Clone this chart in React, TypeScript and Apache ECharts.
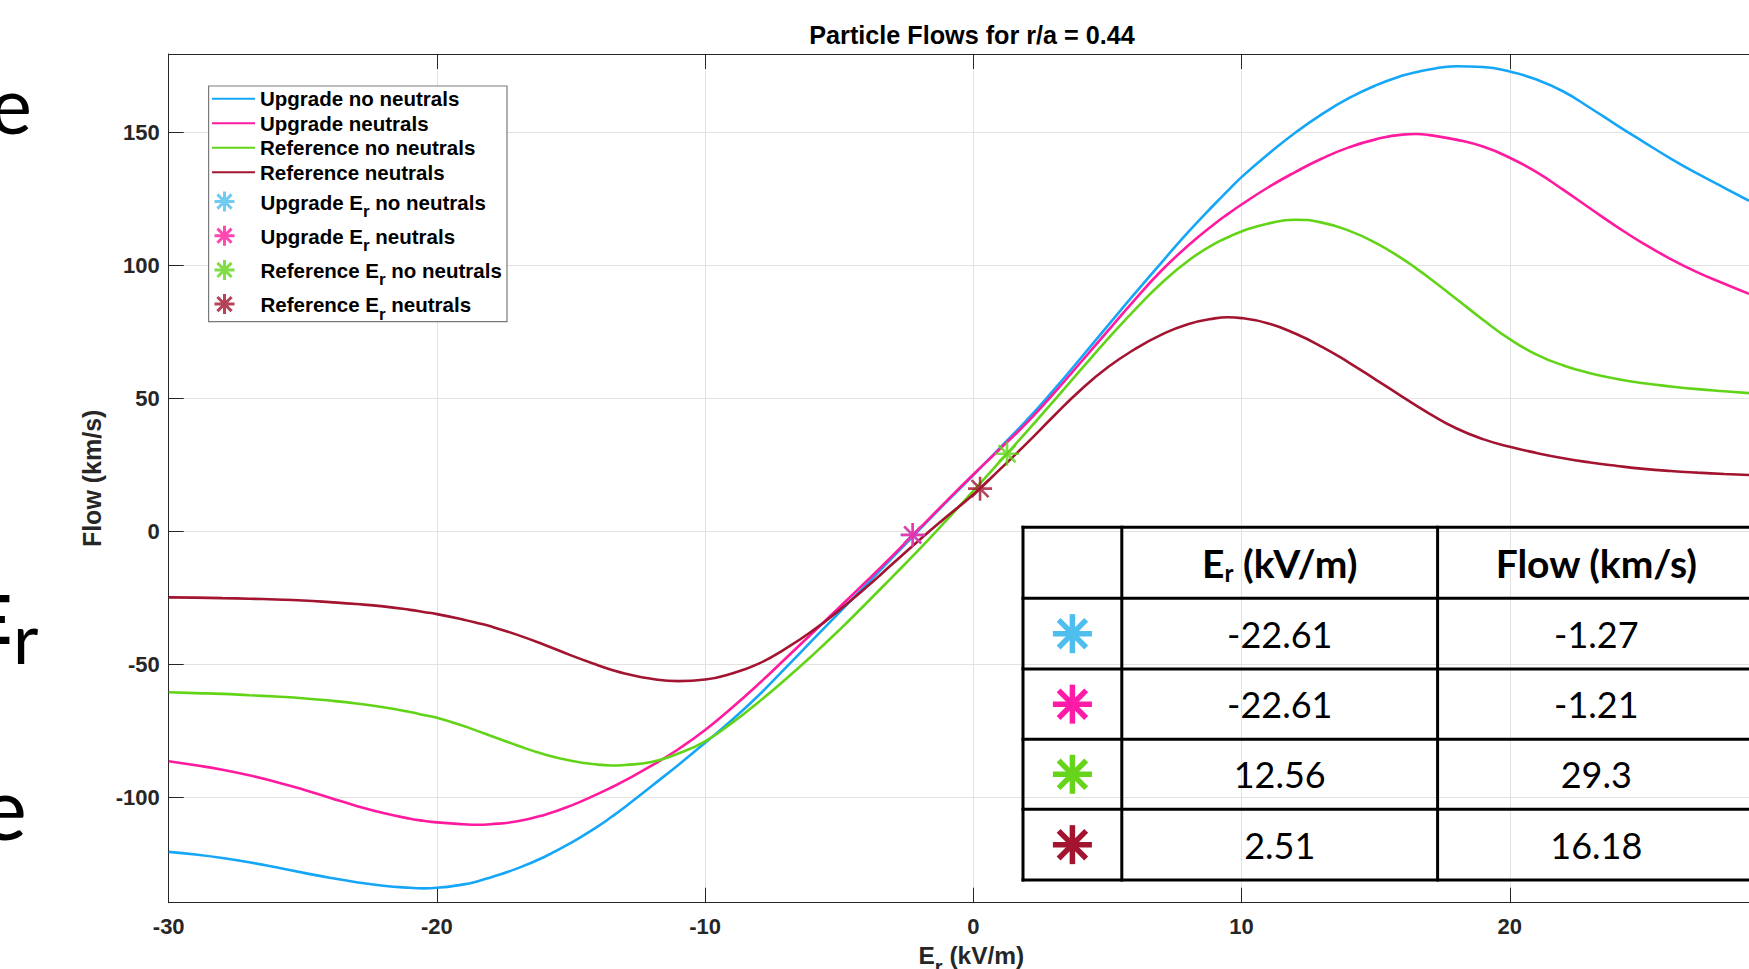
import React, { useEffect, useRef } from "react";
import * as echarts from "echarts";

// ---------- data ----------
const erValues = [
  -30, -29, -28, -27, -26, -25, -24, -23, -22, -21, -20.5, -20, -19, -18.5, -18, -17, -16, -15, -14, -13.5, -13, -12, -11,
  -10, -9, -8, -7, -6, -5, -4, -3, -2, -1, 0, 1, 2, 3, 4, 5, 6, 7, 8, 9, 9.5,
  10, 11, 12, 13, 14, 15, 16, 16.5, 17, 18, 19, 20, 21, 22, 23, 24, 25, 26, 27, 28, 28.92,
];
const upgradeNoNeutrals = [
  -120.4, -121.4, -122.7, -124.3, -126.2, -128.2, -130.1, -131.8, -133.1, -133.9, -134.1, -133.9, -132.6, -131.5, -130.0, -126.6, -122.3, -117.0, -110.8, -107.3, -103.6, -95.7, -87.7,
  -79.4, -70.8, -61.5, -51.2, -40.8, -30.4, -20.0, -9.6, 0.9, 11.2, 21.3, 31.6, 42.0, 53.3, 65.2, 77.3, 89.3, 101.0, 112.5, 123.2, 128.3,
  133.3, 142.0, 150.0, 157.0, 163.0, 167.8, 171.5, 172.7, 173.8, 175.0, 174.7, 173.0, 170.0, 165.5, 159.3, 152.8, 146.5, 140.3, 134.6, 129.3, 124.4,
];
const upgradeNeutrals = [
  -86.3, -87.8, -89.5, -91.6, -94.1, -96.9, -100.0, -103.1, -105.8, -107.9, -108.7, -109.3, -110.0, -110.2, -110.0, -108.9, -106.5, -103.0, -98.6, -96.2, -93.6, -88.0, -81.8,
  -74.6, -66.2, -57.2, -47.7, -38.1, -28.5, -18.8, -8.9, 1.3, 11.5, 21.5, 31.2, 41.0, 52.0, 63.6, 75.3, 87.0, 98.0, 107.5, 115.8, 119.5,
  123.0, 129.5, 135.2, 140.3, 144.5, 147.5, 149.3, 149.5, 149.1, 147.4, 144.8, 140.6, 135.2, 128.5, 121.5, 114.6, 108.2, 102.5, 97.5, 93.2, 89.4,
];
const referenceNoNeutrals = [
  -60.4, -60.7, -61.0, -61.5, -62.0, -62.6, -63.5, -64.6, -66.0, -67.8, -68.9, -70.0, -73.1, -74.9, -76.7, -80.4, -83.7, -86.1, -87.6, -87.9, -87.7, -86.6, -83.4,
  -78.8, -71.9, -64.0, -55.5, -46.5, -37.0, -27.0, -16.8, -6.5, 4.3, 15.3, 26.5, 37.7, 49.2, 60.8, 72.3, 83.2, 93.3, 101.8, 108.3, 110.7,
  112.9, 115.9, 117.3, 116.2, 113.2, 108.6, 102.6, 99.1, 95.4, 87.6, 79.7, 72.4, 66.6, 62.5, 59.6, 57.4, 55.8, 54.6, 53.6, 52.8, 52.1,
];
const referenceNeutrals = [
  -24.7, -24.8, -25.0, -25.2, -25.5, -25.9, -26.5, -27.2, -28.1, -29.4, -30.2, -31.0, -33.1, -34.3, -35.6, -38.8, -42.5, -46.5, -50.2, -51.9, -53.3, -55.3, -56.2,
  -55.6, -53.3, -49.6, -44.0, -37.3, -29.5, -21.0, -12.0, -3.0, 5.6, 14.0, 23.5, 33.3, 43.5, 53.3, 61.7, 68.5, 74.0, 78.0, 80.2, 80.6,
  80.3, 78.3, 74.5, 69.5, 63.6, 57.2, 50.7, 47.5, 44.4, 38.9, 34.8, 31.9, 29.6, 27.6, 26.0, 24.7, 23.6, 22.8, 22.2, 21.7, 21.3,
];

const lineNames = ["Upgrade no neutrals", "Upgrade neutrals", "Reference no neutrals", "Reference neutrals"];
const lineColors = ["#16A6F7", "#FF1A9F", "#62D418", "#A2142F"];

const markerNames = ["Upgrade Er no neutrals", "Upgrade Er neutrals", "Reference Er no neutrals", "Reference Er neutrals"];
const markerLabels = [
  "{a|Upgrade E}{s|r}{a| no neutrals}",
  "{a|Upgrade E}{s|r}{a| neutrals}",
  "{a|Reference E}{s|r}{a| no neutrals}",
  "{a|Reference E}{s|r}{a| neutrals}",
];
const markerColors = ["#4DBEEE", "#FF1A9F", "#62D418", "#A2142F"];
const markerEr = [-2.261, -2.261, 1.256, 0.251];
const markerFlow = [-1.27, -1.21, 29.3, 16.18];

const xTicks = [-30, -20, -10, 0, 10, 20];
const yTicks = [-100, -50, 0, 50, 100, 150];

const tableEr = ["-22.61", "-22.61", "12.56", "2.51"];
const tableFlow = ["-1.27", "-1.21", "29.3", "16.18"];
const tableColors = ["#4DBEEE", "#FF1AA8", "#66D41A", "#A2142F"];

// ---------- styling / layout ----------
const ASTERISK = "path://M0,-10L0,10M-10,0L10,0M-7.07,-7.07L7.07,7.07M-7.07,7.07L7.07,-7.07";
const AX = "#262626";
const FONT = "Liberation Sans";
const SLIDE_FONT = "Lato";

function buildTable(): any[] {
  const left = 1023, c1 = 1121.8, c2 = 1437.6, right = 1755;
  const rows = [527.3, 598.3, 669, 739.3, 809.3, 880];
  const els: any[] = [];
  rows.forEach((y) =>
    els.push({ type: "line", z: 20, shape: { x1: left - 1.5, y1: y, x2: right, y2: y }, style: { stroke: "#000", lineWidth: 3 } })
  );
  [left, c1, c2, right].forEach((x) =>
    els.push({ type: "line", z: 20, shape: { x1: x, y1: rows[0] - 1.5, x2: x, y2: rows[5] + 1.5 }, style: { stroke: "#000", lineWidth: 3 } })
  );
  const hc = (rows[0] + rows[1]) / 2;
  els.push({
    type: "text", z: 21, x: (c1 + c2) / 2, y: hc,
    style: {
      text: "{a|E}{s|r}{a| (kV/m)}", align: "center", verticalAlign: "middle",
      rich: {
        a: { fontFamily: SLIDE_FONT, fontWeight: "bold", fontSize: 39, lineHeight: 39, verticalAlign: "top", fill: "#000" },
        s: { fontFamily: SLIDE_FONT, fontWeight: "bold", fontSize: 24, lineHeight: 24, verticalAlign: "top", padding: [17, 0, 0, 0], fill: "#000" },
      },
    },
  });
  els.push({
    type: "text", z: 21, x: (c2 + right) / 2, y: hc,
    style: { text: "Flow (km/s)", align: "center", verticalAlign: "middle", fontFamily: SLIDE_FONT, fontWeight: "bold", fontSize: 39, fill: "#000" },
  });
  for (let i = 0; i < 4; i++) {
    const cy = (rows[i + 1] + rows[i + 2]) / 2;
    els.push({
      type: "text", z: 21, x: (c1 + c2) / 2, y: cy,
      style: { text: tableEr[i], align: "center", verticalAlign: "middle", fontFamily: SLIDE_FONT, fontSize: 36, fill: "#000" },
    });
    els.push({
      type: "text", z: 21, x: (c2 + right) / 2, y: cy,
      style: { text: tableFlow[i], align: "center", verticalAlign: "middle", fontFamily: SLIDE_FONT, fontSize: 36, fill: "#000" },
    });
    const cx = (left + c1) / 2;
    const r = 19.5;
    const d = r * 0.7071;
    const st = { stroke: tableColors[i], lineWidth: 5.5 };
    els.push({
      type: "group", z: 21,
      children: [
        { type: "line", shape: { x1: cx, y1: cy - r, x2: cx, y2: cy + r }, style: st },
        { type: "line", shape: { x1: cx - r, y1: cy, x2: cx + r, y2: cy }, style: st },
        { type: "line", shape: { x1: cx - d, y1: cy - d, x2: cx + d, y2: cy + d }, style: st },
        { type: "line", shape: { x1: cx - d, y1: cy + d, x2: cx + d, y2: cy - d }, style: st },
      ],
    });
  }
  return els;
}

function buildSlideFragments(): any[] {
  return [
    { type: "text", z: 30, x: 32, y: 103, style: { text: "e", align: "right", verticalAlign: "middle", fontFamily: SLIDE_FONT, fontSize: 80, fill: "#000" } },
    { type: "text", z: 30, x: 12, y: 618, style: { text: "E", align: "right", verticalAlign: "middle", fontFamily: SLIDE_FONT, fontWeight: "bold", fontSize: 66, fill: "#000" } },
    { type: "text", z: 30, x: 13, y: 637, style: { text: "r", align: "left", verticalAlign: "middle", fontFamily: SLIDE_FONT, fontSize: 70, fill: "#000" } },
    { type: "text", z: 30, x: 27, y: 806, style: { text: "e", align: "right", verticalAlign: "middle", fontFamily: SLIDE_FONT, fontSize: 88, fill: "#000" } },
  ];
}

export default function App() {
  const ref = useRef<HTMLDivElement>(null);

  useEffect(() => {
    if (!ref.current) return;
    const chart = echarts.init(ref.current, undefined, { renderer: "svg" });

    const lineSeriesData = [upgradeNoNeutrals, upgradeNeutrals, referenceNoNeutrals, referenceNeutrals];
    const lineSeries = lineSeriesData.map((ys, i) => ({
      name: lineNames[i],
      type: "line",
      xAxisIndex: 0,
      data: erValues.map((x, j) => [x, ys[j]]),
      showSymbol: false,
      symbol: "none",
      smooth: 0.5,
      lineStyle: { color: lineColors[i], width: 2.6 },
      itemStyle: { color: lineColors[i] },
      z: 2,
    }));
    const markerSeries = markerNames.map((n, i) => ({
      name: n,
      type: "scatter",
      xAxisIndex: 0,
      data: [[markerEr[i], markerFlow[i]]],
      symbol: ASTERISK,
      symbolSize: 24,
      symbolKeepAspect: true,
      itemStyle: { color: markerColors[i], borderColor: markerColors[i], borderWidth: 2.6 },
      z: 3,
    }));

    const legendText = { fontFamily: FONT, fontWeight: "bold", fontSize: 20.5, color: "#000" };

    chart.setOption({
      animation: false,
      backgroundColor: "#fff",
      title: {
        text: "Particle Flows for r/a = 0.44",
        left: 972,
        top: 22.5,
        padding: 0,
        textAlign: "center",
        textStyle: { fontFamily: FONT, fontWeight: "bold", fontSize: 25.2, color: "#000" },
      },
      grid: { left: 168.7, right: 0, top: 54, bottom: 66.3, containLabel: false, outerBoundsMode: "none" },
      xAxis: [
        {
          type: "value",
          min: -30,
          max: 28.92,
          interval: 10,
          position: "bottom",
          name: "{a|E}{s|r}{a| (kV/m)}",
          nameLocation: "middle",
          nameGap: 40.5,
          nameTextStyle: {
            padding: [0, 0, 0, 25],
            rich: {
              a: { fontFamily: FONT, fontWeight: "bold", fontSize: 24.5, lineHeight: 24, verticalAlign: "top", color: AX },
              s: { fontFamily: FONT, fontWeight: "bold", fontSize: 20, lineHeight: 20, verticalAlign: "top", padding: [14, 0, 0, 0], color: AX },
            },
          },
          axisLine: { show: true, onZero: false, lineStyle: { color: AX, width: 1 } },
          axisTick: { show: true, inside: true, length: 15, customValues: xTicks, lineStyle: { color: AX } },
          axisLabel: { customValues: xTicks, margin: 12.5, fontFamily: FONT, fontWeight: "bold", fontSize: 22, color: AX },
          splitLine: { show: true, lineStyle: { color: "#e2e2e2", width: 1 } },
        },
        {
          type: "value",
          min: -30,
          max: 28.92,
          interval: 10,
          position: "top",
          axisLine: { show: true, onZero: false, lineStyle: { color: AX, width: 1 } },
          axisTick: { show: true, inside: true, length: 15, customValues: xTicks, lineStyle: { color: AX } },
          axisLabel: { show: false },
          splitLine: { show: false },
        },
      ],
      yAxis: {
        type: "value",
        min: -139.5,
        max: 179.6,
        name: "Flow (km/s)",
        nameLocation: "middle",
        nameGap: 55,
        nameTextStyle: { fontFamily: FONT, fontWeight: "bold", fontSize: 25, color: AX },
        axisLine: { show: true, onZero: false, lineStyle: { color: AX, width: 1 } },
        axisTick: { show: true, inside: true, length: 15, customValues: yTicks, lineStyle: { color: AX } },
        axisLabel: { customValues: yTicks, margin: 9, fontFamily: FONT, fontWeight: "bold", fontSize: 22, color: AX, padding: [4, 0, 0, 0] },
        splitLine: { show: true, lineStyle: { color: "#e2e2e2", width: 1 } },
      },
      legend: [
        {
          data: lineNames,
          orient: "vertical",
          left: 211,
          top: 87.7,
          padding: 0,
          itemWidth: 43,
          itemHeight: 14,
          itemGap: 2.5,
          selectedMode: false,
          itemStyle: { color: "transparent", borderWidth: 0 },
          textStyle: { ...legendText, lineHeight: 22 },
        },
        {
          data: markerNames.map((n) => ({ name: n, icon: ASTERISK })),
          orient: "vertical",
          left: 213,
          top: 190,
          padding: 0,
          itemWidth: 62,
          itemHeight: 20,
          itemGap: 4.2,
          symbolKeepAspect: true,
          selectedMode: false,
          itemStyle: { borderWidth: 3 },
          formatter: (name: string) => markerLabels[markerNames.indexOf(name)],
          textStyle: {
            ...legendText,
            rich: {
              a: { ...legendText, lineHeight: 20, verticalAlign: "top" },
              s: { ...legendText, fontSize: 17, lineHeight: 17, verticalAlign: "top", padding: [11.5, 0, 0, 0] },
            },
          },
        },
      ],
      graphic: [
        {
          type: "rect",
          z: 3,
          shape: { x: 208.6, y: 86, width: 298.4, height: 235.7 },
          style: { fill: "#fff", stroke: "#7a7a7a", lineWidth: 1.2 },
        },
        ...buildTable(),
        ...buildSlideFragments(),
      ],
      series: [...lineSeries, ...markerSeries],
    });

    return () => chart.dispose();
  }, []);

  return (
    <div
      ref={ref}
      style={{ position: "absolute", left: 0, top: 0, width: 1749, height: 969, background: "#fff" }}
    />
  );
}
